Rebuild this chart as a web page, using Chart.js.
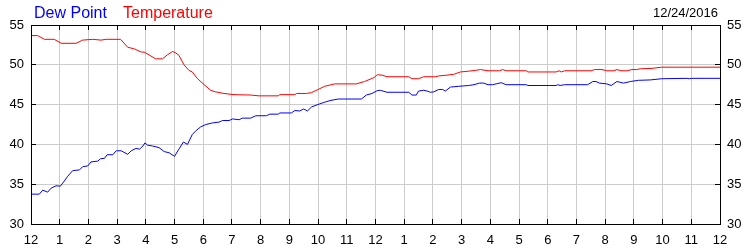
<!DOCTYPE html>
<html>
<head>
<meta charset="utf-8">
<title>Dew Point / Temperature 12/24/2016</title>
<script src="https://cdn.jsdelivr.net/npm/chart.js@4.4.1/dist/chart.umd.min.js"></script>
<style>
    html, body { margin: 0; padding: 0; background: #fff; }
    canvas { display: block; }
</style>
</head>
<body>
<canvas id="weatherChart" width="750" height="250"></canvas>
<script>
// Hour labels along the bottom (midnight to midnight)
const hourLabels = ['12', '1', '2', '3', '4', '5', '6', '7', '8', '9', '10', '11',
    '12', '1', '2', '3', '4', '5', '6', '7', '8', '9', '10', '11', '12'];
const tempTicks = [30, 35, 40, 45, 50, 55];

// Temperature readings (hours since midnight, degrees)
const tempHours = [0, 0.23, 0.47, 0.81, 1.05, 1.57, 1.8, 2.15, 2.44, 2.62, 3.12, 3.37, 3.6, 3.84,
    3.94, 4.11, 4.34, 4.58, 4.75, 4.93, 5.04, 5.15, 5.33, 5.5, 5.62, 5.79, 6.03, 6.26, 6.43, 6.72,
    7.07, 7.65, 7.94, 8.61, 8.67, 9.19, 9.25, 9.59, 9.77, 10.0, 10.23, 10.58, 11.33, 11.62, 11.95,
    12.06, 12.23, 12.4, 13.16, 13.27, 13.5, 13.68, 14.09, 14.2, 14.49, 14.72, 14.96, 15.25, 15.48,
    15.66, 15.92, 16.32, 16.43, 16.55, 17.25, 17.31, 18.29, 18.39, 18.47, 18.59, 19.51, 19.63,
    19.89, 20.06, 20.3, 20.41, 20.55, 20.76, 20.93, 21.1, 21.22, 21.63, 21.97, 24];
const tempValues = [53.67, 53.67, 53.2, 53.2, 52.7, 52.7, 53.1, 53.2, 53.1, 53.2, 53.2, 52.2, 52.0, 51.6,
    51.6, 51.25, 50.75, 50.75, 51.25, 51.67, 51.5, 51.2, 50.0, 49.3, 49.1, 48.3, 47.5, 46.8, 46.6, 46.4,
    46.25, 46.2, 46.1, 46.1, 46.25, 46.25, 46.4, 46.4, 46.5, 46.9, 47.3, 47.6, 47.6, 47.9, 48.4,
    48.75, 48.7, 48.5, 48.5, 48.25, 48.25, 48.5, 48.5, 48.6, 48.7, 48.8, 49.1, 49.2, 49.3,
    49.4, 49.25, 49.25, 49.4, 49.25, 49.25, 49.1, 49.1, 49.25, 49.1, 49.25, 49.25, 49.4,
    49.4, 49.25, 49.25, 49.4, 49.25, 49.25, 49.4, 49.4, 49.5, 49.55, 49.7, 49.7];

// Dew point readings
const dewHours = [0, 0.29, 0.41, 0.58, 0.7, 0.87, 1.02, 1.16, 1.28, 1.45, 1.69, 1.8, 1.98, 2.09,
    2.33, 2.42, 2.56, 2.65, 2.85, 2.97, 3.14, 3.37, 3.49, 3.66, 3.78, 3.9, 3.97, 4.06, 4.23, 4.46,
    4.64, 4.81, 5.0, 5.15, 5.31, 5.45, 5.62, 5.74, 5.91, 6.09, 6.32, 6.55, 6.67, 6.9, 7.02, 7.25,
    7.36, 7.65, 7.83, 8.2, 8.32, 8.61, 8.67, 9.07, 9.19, 9.36, 9.5, 9.63, 9.77, 10.06, 10.23, 10.41,
    10.7, 11.51, 11.68, 11.88, 12.06, 12.17, 12.4, 13.16, 13.27, 13.42, 13.5, 13.68, 13.8, 13.91,
    14.03, 14.2, 14.34, 14.43, 14.61, 14.9, 15.25, 15.43, 15.62, 15.77, 15.92, 16.08, 16.2, 16.38,
    16.55, 17.25, 17.31, 18.29, 18.35, 18.43, 18.59, 19.39, 19.57, 19.68, 19.8, 20.06, 20.21,
    20.41, 20.64, 20.88, 21.16, 21.57, 21.97, 22.85, 22.93, 23.0, 24];
const dewValues = [33.75, 33.75, 34.25, 34.0, 34.5, 34.8, 34.75, 35.4, 36.0, 36.7, 36.8, 37.2, 37.3, 37.8,
    37.9, 38.2, 38.25, 38.7, 38.7, 39.2, 39.2, 38.75, 39.2, 39.5, 39.4, 39.8, 40.2, 39.9, 39.8, 39.6,
    39.1, 38.95, 38.5, 39.4, 40.3, 40.0, 41.25, 41.7, 42.2, 42.5, 42.7, 42.8, 43.0, 43.0, 43.2, 43.1,
    43.3, 43.3, 43.6, 43.6, 43.8, 43.8, 43.95, 43.95, 44.25, 44.2, 44.45, 44.2, 44.7, 45.1, 45.3, 45.5,
    45.7, 45.7, 46.2, 46.4, 46.75, 46.8, 46.55, 46.55, 46.2, 46.2, 46.7, 46.8, 46.7, 46.55,
    46.6, 46.9, 46.9, 46.7, 47.2, 47.3, 47.4, 47.5, 47.7, 47.7, 47.5, 47.5, 47.6, 47.75,
    47.5, 47.5, 47.4, 47.4, 47.5, 47.4, 47.5, 47.5, 47.9, 47.9, 47.7, 47.6, 47.4,
    47.9, 47.7, 47.9, 48.05, 48.1, 48.25, 48.3, 48.25, 48.3, 48.3];

const FONT = '"Liberation Sans", Arial, sans-serif';

function toPoints(xs, ys) {
    return xs.map((x, i) => ({ x: x, y: ys[i] }));
}

// snap a 1px line to the pixel grid like Chart.js does
function crisp(v) {
    return Math.round(v - 0.5) + 0.5;
}

// Black frame plus short inward tick marks on all four sides
const framePlugin = {
    id: 'frame',
    afterDatasetsDraw(chart) {
        const { ctx, chartArea: a, scales } = chart;
        ctx.save();
        ctx.strokeStyle = '#000';
        ctx.lineWidth = 1;
        ctx.beginPath();
        scales.x.ticks.forEach(t => {
            const x = crisp(scales.x.getPixelForValue(t.value));
            ctx.moveTo(x, a.top);
            ctx.lineTo(x, a.top + 5);
            ctx.moveTo(x, a.bottom);
            ctx.lineTo(x, a.bottom - 5);
        });
        scales.y.ticks.forEach(t => {
            const y = crisp(scales.y.getPixelForValue(t.value));
            ctx.moveTo(a.left, y);
            ctx.lineTo(a.left + 5, y);
            ctx.moveTo(a.right, y);
            ctx.lineTo(a.right - 5, y);
        });
        ctx.stroke();
        ctx.strokeRect(crisp(a.left), crisp(a.top), crisp(a.right) - crisp(a.left), crisp(a.bottom) - crisp(a.top));
        ctx.restore();
    },
    afterDraw(chart) {
        // Series names and date along the top
        const ctx = chart.ctx;
        ctx.save();
        ctx.textBaseline = 'alphabetic';
        ctx.font = '16px ' + FONT;
        ctx.textAlign = 'left';
        ctx.fillStyle = '#0000ff';
        ctx.fillText('Dew Point', 34, 18);
        ctx.fillStyle = '#ff0000';
        ctx.fillText('Temperature', 123, 18);
        ctx.font = '13px ' + FONT;
        ctx.fillStyle = '#000';
        ctx.textAlign = 'right';
        ctx.fillText('12/24/2016', 718, 17);
        ctx.restore();
    }
};

document.addEventListener('DOMContentLoaded', function() {
    const ctx = document.getElementById('weatherChart').getContext('2d');

    const tickFont = { family: FONT, size: 13 };
    const yAxis = (position, width) => ({
        type: 'linear',
        position: position,
        min: tempTicks[0],
        max: tempTicks[tempTicks.length - 1],
        afterBuildTicks: scale => {
            scale.ticks = tempTicks.map(v => ({ value: v }));
        },
        afterFit: scale => {
            scale.width = width;
        },
        grid: {
            color: '#cccccc',
            drawTicks: false,
            display: position === 'left'
        },
        border: { display: false },
        ticks: {
            color: '#000',
            font: tickFont,
            padding: 7
        }
    });

    const weatherChart = new Chart(ctx, {
        type: 'line',
        data: {
            datasets: [{
                label: 'Dew Point',
                data: toPoints(dewHours, dewValues),
                borderColor: '#0000ff',
                borderWidth: 1,
                pointRadius: 0,
                tension: 0,
                yAxisID: 'y'
            }, {
                label: 'Temperature',
                data: toPoints(tempHours, tempValues),
                borderColor: '#ff0000',
                borderWidth: 1,
                pointRadius: 0,
                tension: 0,
                yAxisID: 'y'
            }]
        },
        options: {
            responsive: false,
            animation: false,
            layout: {
                padding: { top: 25 }
            },
            scales: {
                x: {
                    type: 'linear',
                    min: 0,
                    max: 24,
                    afterBuildTicks: scale => {
                        scale.ticks = hourLabels.map((label, i) => ({ value: i }));
                    },
                    afterFit: scale => {
                        scale.height = 26;
                    },
                    grid: {
                        color: '#cccccc',
                        drawTicks: false
                    },
                    border: { display: false },
                    ticks: {
                        color: '#000',
                        font: tickFont,
                        padding: 9,
                        autoSkip: false,
                        maxRotation: 0,
                        callback: value => hourLabels[value]
                    }
                },
                y: yAxis('left', 31),
                y2: yAxis('right', 30)
            },
            plugins: {
                legend: { display: false },
                tooltip: { enabled: false }
            }
        },
        plugins: [framePlugin]
    });
});
</script>
</body>
</html>
